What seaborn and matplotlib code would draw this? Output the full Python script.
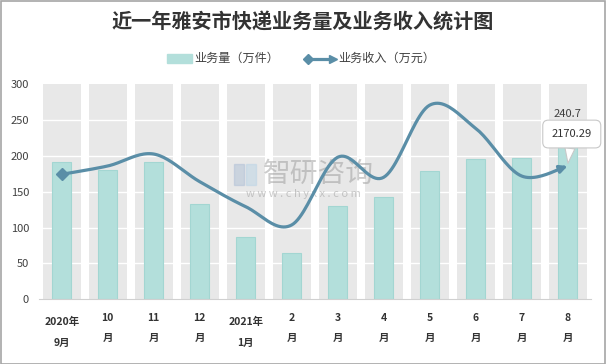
import numpy as np
import pandas as pd
import seaborn as sns
import matplotlib.pyplot as plt
from matplotlib.patches import Rectangle
from matplotlib.lines import Line2D

# 数据
months = ["2020年\n9月", "10\n月", "11\n月", "12\n月", "2021年\n1月", "2\n月",
          "3\n月", "4\n月", "5\n月", "6\n月", "7\n月", "8\n月"]
volume = [192, 181, 192, 132.5, 86.5, 65, 130.6, 142.3, 178.6, 195.3, 197.6, 240.7]
revenue = [2035, 2170, 2365, 1915, 1508, 1210, 2312, 1986, 3160, 2784, 2007, 2170.29]
yticks = [0, 50, 100, 150, 200, 250, 300]

sns.set_style("white")
plt.rcParams["font.family"] = ["Noto Sans CJK SC", "DejaVu Sans"]

W, H = 606, 364
fig = plt.figure(figsize=(W / 100, H / 100), dpi=100)
ax = fig.add_axes([38.7 / W, 64.7 / H, 551.9 / W, 215 / H])

df = pd.DataFrame({"month": months, "volume": volume, "bg": [300] * len(months)})

# 灰色背景柱
sns.barplot(data=df, x="month", y="bg", color="#e8e8e8", width=0.826,
            saturation=1, ax=ax)
n_bg = len(ax.patches)
# 业务量柱
sns.barplot(data=df, x="month", y="volume", color="#b3dfdb", width=0.42,
            saturation=1, ax=ax)
for i, p in enumerate(ax.patches):
    if i < n_bg:
        p.set_zorder(0.5)
        p.set_edgecolor("none")
    else:
        p.set_zorder(2)
        p.set_edgecolor("#a3d6d2")
        p.set_linewidth(0.8)

for v in yticks[1:-1]:
    ax.axhline(v, color="white", lw=1, zorder=1)

ax.set_ylim(0, 300)
ax.set_xlim(-0.5, len(months) - 0.5)
ax.set_yticks(yticks)
ax.tick_params(axis="y", length=0, pad=7, labelsize=8, labelcolor="#404040")
ax.set_xticks(np.arange(-0.5, len(months)), minor=True)
ax.set_xticks([])
ax.tick_params(axis="x", which="minor", length=4, color="#d0d0d0", width=0.8)
ax.set_xlabel("")
ax.set_ylabel("")
for s in ["top", "right", "left"]:
    ax.spines[s].set_visible(False)
ax.spines["bottom"].set_color("#d0d0d0")
ax.spines["bottom"].set_linewidth(0.8)

# x 轴标签（两行）
def px_to_axes(y_px):
    return (299.3 - y_px) / 215

for i, lab in enumerate(months):
    top, bottom = lab.split("\n")
    if "年" in top:
        y1, y2 = 322, 343
    else:
        y1, y2 = 318, 338
    ax.text(i, px_to_axes(y1), top, transform=ax.get_xaxis_transform(),
            ha="center", va="center", fontsize=7.5, fontweight="bold", color="#333333")
    ax.text(i, px_to_axes(y2), bottom, transform=ax.get_xaxis_transform(),
            ha="center", va="center", fontsize=7.5, fontweight="bold", color="#333333")

# 水印
ax.text(5.59, px_to_axes(174), "智研咨询", transform=ax.get_xaxis_transform(),
        ha="center", va="center", fontsize=20, color="#9a9a9a", alpha=0.5, zorder=3)
ax.text(5.25, px_to_axes(194), "w w w . c h y x x . c o m", transform=ax.get_xaxis_transform(),
        ha="center", va="center", fontsize=8, color="#9a9a9a", alpha=0.5, zorder=3)
fig.patches.append(Rectangle((234 / W, 1 - 185 / H), 10 / W, 21 / H, transform=fig.transFigure,
                             color="#aebfd6", alpha=0.5, zorder=3))
fig.patches.append(Rectangle((246 / W, 1 - 185 / H), 10 / W, 21 / H, transform=fig.transFigure,
                             color="#b9d3e6", alpha=0.5, zorder=3))

# 业务收入折线（次坐标轴，隐藏）
ax2 = ax.twinx()
ax2.set_ylim(0, 3500)
ax2.set_axis_off()

def smooth(xs, ys, n=24):
    pts = np.column_stack([xs, ys]).astype(float)
    ext = np.vstack([pts[0], pts, pts[-1]])
    out = []
    t = np.linspace(0, 1, n)[:, None]
    for i in range(len(pts) - 1):
        p0, p1, p2, p3 = ext[i], ext[i + 1], ext[i + 2], ext[i + 3]
        c1 = p1 + (p2 - p0) / 6
        c2 = p2 - (p3 - p1) / 6
        seg = (1 - t) ** 3 * p1 + 3 * (1 - t) ** 2 * t * c1 + 3 * (1 - t) * t ** 2 * c2 + t ** 3 * p2
        out.append(seg if i == 0 else seg[1:])
    return np.vstack(out)

line_color = "#5a8ea7"
curve = smooth(np.arange(len(revenue)), revenue)
ax2.plot(curve[:-3, 0], curve[:-3, 1], color=line_color, lw=2.3, zorder=4,
         solid_capstyle="round")
ax2.plot([0], [revenue[0]], marker="D", ms=6, color=line_color, zorder=5)
ax2.annotate("", xy=(curve[-1, 0], curve[-1, 1]), xytext=(curve[-6, 0], curve[-6, 1]),
             arrowprops=dict(arrowstyle="-|>", color=line_color, lw=2.3,
                             mutation_scale=11, shrinkA=0, shrinkB=0), zorder=5)

# 数据标签
ax2.text(11, 3500 * (299.3 - 114) / 215, "240.7", ha="center", va="center",
         fontsize=8, color="#404040", zorder=6)
ax2.annotate("2170.29", xy=(11, revenue[-1]), xytext=(3, 23), textcoords="offset points",
             ha="center", va="center", fontsize=8, color="#333333", zorder=7,
             bbox=dict(boxstyle="round,pad=0.8,rounding_size=0.5", fc="white",
                       ec="#c8c8c8", lw=0.8),
             arrowprops=dict(arrowstyle="wedge,tail_width=0.9,shrink_factor=0.5",
                             fc="white", ec="#c8c8c8", lw=0.8, shrinkA=0, shrinkB=2))

# 标题
fig.text(302.5 / W, 1 - 22.5 / H, "近一年雅安市快递业务量及业务收入统计图",
         ha="center", va="center", fontsize=14.5, fontweight="bold", color="#333333")

# 图例
ly = 1 - 58.5 / H
fig.patches.append(Rectangle((166.7 / W, ly - 4.5 / H), 25 / W, 9 / H,
                             transform=fig.transFigure, color="#b3dfdb"))
fig.text(194 / W, ly, "业务量（万件）", ha="left", va="center", fontsize=8.7, color="#404040")
fig.add_artist(Line2D([307 / W, 331 / W], [ly, ly], color=line_color, lw=2.3,
                      transform=fig.transFigure))
fig.add_artist(Line2D([308 / W], [ly], marker="D", ms=5, color=line_color,
                      transform=fig.transFigure))
fig.add_artist(Line2D([333 / W], [ly], marker=">", ms=6, color=line_color,
                      transform=fig.transFigure))
fig.text(338 / W, ly, "业务收入（万元）", ha="left", va="center", fontsize=8.7, color="#404040")

# 外边框
fig.patches.append(Rectangle((0.5 / W, 0.5 / H), 1 - 1.5 / W, 1 - 1.5 / H,
                             transform=fig.transFigure, fill=False, ec="#a6a6a6", lw=1.2))

fig.savefig("out.png", dpi=100)
